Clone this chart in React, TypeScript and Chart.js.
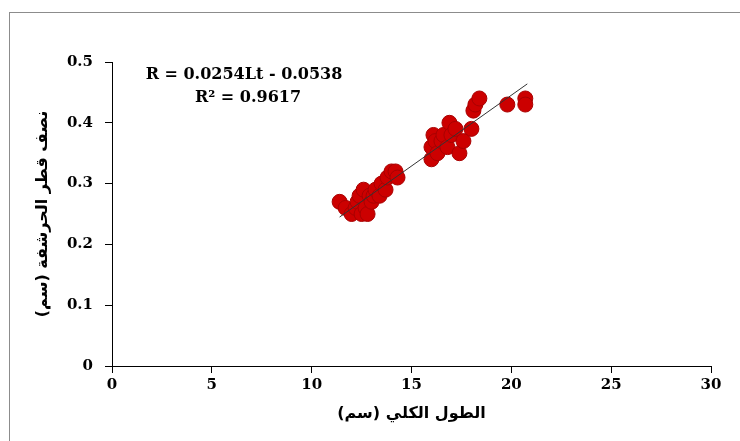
import React, { useEffect, useRef } from "react";
import { Chart, registerables } from "chart.js";

Chart.register(...registerables);

// Total length (cm)
const lengthsCm = [
  11.4, 11.7, 12.0, 12.2, 12.3, 12.4, 12.5, 12.6, 12.7, 12.8, 12.9, 13.0, 13.1, 13.2, 13.4, 13.5, 13.7, 13.8, 14.0, 14.2, 14.3,
  16.0, 16.0, 16.1, 16.2, 16.3, 16.5, 16.6, 16.8, 16.9, 17.0, 17.2, 17.4, 17.6, 18.0, 18.1, 18.2, 18.4, 19.8, 20.7, 20.7,
];
// Scale radius (cm)
const radiiCm = [
  0.27, 0.26, 0.25, 0.26, 0.27, 0.28, 0.25, 0.29, 0.26, 0.25, 0.28, 0.27, 0.28, 0.29, 0.28, 0.30, 0.29, 0.31, 0.32, 0.32, 0.31,
  0.34, 0.36, 0.38, 0.37, 0.35, 0.37, 0.38, 0.36, 0.40, 0.38, 0.39, 0.35, 0.37, 0.39, 0.42, 0.43, 0.44, 0.43, 0.44, 0.43,
];
// Trend line end points
const trendX = [11.4, 20.8];
const trendY = [0.245, 0.464];

const xTickValues = [0, 5, 10, 15, 20, 25, 30];
const yTickValues = [0, 0.1, 0.2, 0.3, 0.4, 0.5];

const equationLines = ["R = 0.0254Lt - 0.0538", "R² = 0.9617"];
const xTitle = "الطول الكلي (سم)";
const yTitle = "نصف قطر الحرشفة (سم)";

const W = 740;
const H = 441;

const equationPlugin = {
  id: "equationText",
  afterDraw(chart: any) {
    const ctx = chart.ctx;
    ctx.save();
    ctx.fillStyle = "#000";
    ctx.font = "bold 16px 'DejaVu Serif'";
    ctx.textAlign = "center";
    ctx.textBaseline = "middle";
    ctx.fillText(equationLines[0], 244, 75);
    ctx.fillText(equationLines[1], 248, 98);
    ctx.restore();
  },
};

export default function App() {
  const canvasRef = useRef<HTMLCanvasElement | null>(null);

  useEffect(() => {
    if (!canvasRef.current) return;
    const points = lengthsCm.map((x, i) => ({ x, y: radiiCm[i] }));
    const trend = trendX.map((x, i) => ({ x, y: trendY[i] }));
    const tickFont = { family: "'DejaVu Serif'", size: 15, weight: "bold" as const };
    const titleFont = { family: "'DejaVu Sans'", size: 16, weight: "bold" as const };

    const chart = new Chart(canvasRef.current, {
      type: "scatter",
      data: {
        datasets: [
          {
            type: "line",
            data: trend,
            borderColor: "#333333",
            borderWidth: 1,
            pointRadius: 0,
            fill: false,
            order: 0,
          } as any,
          {
            data: points,
            backgroundColor: "#cc0000",
            borderColor: "#a80000",
            borderWidth: 1,
            pointRadius: 7.5,
            order: 1,
          },
        ],
      },
      options: {
        animation: false,
        responsive: true,
        maintainAspectRatio: false,
        layout: { padding: { top: 62, right: 29, left: 0, bottom: 0 } },
        plugins: { legend: { display: false }, tooltip: { enabled: false } },
        scales: {
          x: {
            type: "linear",
            min: 0,
            max: 30,
            afterBuildTicks: (scale: any) => {
              scale.ticks = xTickValues.map((v) => ({ value: v }));
            },
            afterFit: (scale: any) => {
              scale.height = 75;
            },
            grid: { drawOnChartArea: false, drawTicks: true, tickLength: 7, color: "#000" },
            border: { color: "#000", width: 1 },
            ticks: { color: "#000", font: tickFont, padding: 3, maxRotation: 0 },
            title: {
              display: true,
              text: xTitle,
              color: "#000",
              font: titleFont,
              padding: { top: 0, bottom: 18 },
            },
          },
          y: {
            type: "linear",
            min: 0,
            max: 0.5,
            afterBuildTicks: (scale: any) => {
              scale.ticks = yTickValues.map((v) => ({ value: v }));
            },
            afterFit: (scale: any) => {
              scale.width = 112;
            },
            grid: { drawOnChartArea: false, drawTicks: true, tickLength: 7, color: "#000" },
            border: { color: "#000", width: 1 },
            ticks: {
              color: "#000",
              font: tickFont,
              padding: 12,
              callback: (v: any) => String(Number(Number(v).toFixed(1))),
            },
            title: {
              display: true,
              text: yTitle,
              color: "#000",
              font: titleFont,
              padding: { top: 33, bottom: 0 },
            },
          },
        },
      },
      plugins: [equationPlugin],
    });
    return () => chart.destroy();
  }, []);

  return (
    <div style={{ position: "fixed", left: 0, top: 0, width: W, height: H, overflow: "hidden", background: "#fff" }}>
      <div
        style={{
          position: "absolute",
          left: 9,
          top: 12,
          width: W + 100,
          height: H + 100,
          border: "1px solid #8c8c8c",
          boxSizing: "border-box",
        }}
      />
      <div style={{ position: "absolute", left: 0, top: 0, width: W, height: H }}>
        <canvas ref={canvasRef} />
      </div>
    </div>
  );
}
